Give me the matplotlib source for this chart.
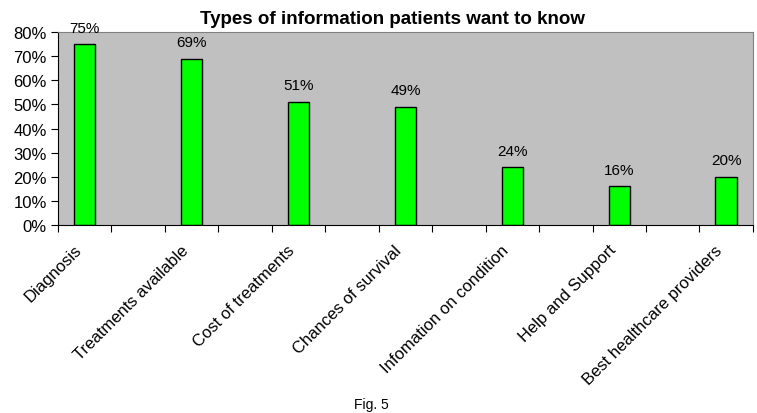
import matplotlib.pyplot as plt
import numpy as np
from matplotlib.transforms import ScaledTranslation

plt.rcParams['font.family'] = ['Liberation Sans', 'DejaVu Sans']

# Data (percent of patients)
categories = ["Diagnosis", "Treatments available", "Cost of treatments",
              "Chances of survival", "Infomation on condition",
              "Help and Support", "Best healthcare providers"]
values = [75, 69, 51, 49, 24, 16, 20]
y_ticks = [0, 10, 20, 30, 40, 50, 60, 70, 80]

fig = plt.figure(figsize=(7.57, 4.14), dpi=100)
ax = fig.add_axes([0.0766, 0.454, 0.918, 0.466])
ax.set_facecolor("#C0C0C0")

# every category sits in every other slot (blank slots in between)
x = np.arange(len(categories)) * 2
bars = ax.bar(x, values, width=0.4, color="#00FF00", edgecolor="black", linewidth=1, zorder=2)

for xi, v in zip(x, values):
    ax.text(xi, v + 4, f"{v}%", ha="center", va="bottom", fontsize=11, clip_on=False)

n_slots = x[-1] + 1
ax.set_xlim(-0.5, n_slots - 0.5)
ax.set_ylim(0, 80)
ax.set_yticks(y_ticks)
ax.set_yticklabels([f"{t}%" for t in y_ticks], fontsize=12)

ax.set_xticks(np.arange(-0.5, n_slots, 1.0))
ax.set_xticklabels([])
ax.set_xticks(x, minor=True)
ax.set_xticklabels(categories, minor=True, rotation=45, ha="right", va="center",
                   rotation_mode="anchor", fontsize=12)
ax.tick_params(axis="x", which="minor", length=0, pad=16)
ax.tick_params(axis="x", which="major", length=5, direction="out")
ax.tick_params(axis="y", length=5, direction="out", pad=3)

# nudge rotated labels a bit left, like the original
shift = ScaledTranslation(-6 / 100, 0, fig.dpi_scale_trans)
for lab in ax.get_xticklabels(minor=True):
    lab.set_transform(lab.get_transform() + shift)

for side in ["top", "right"]:
    ax.spines[side].set_color("#808080")
ax.spines["left"].set_color("black")
ax.spines["bottom"].set_color("black")

fig.text(0.518, 0.954, "Types of information patients want to know",
         ha="center", va="center", fontsize=13.5, fontweight="bold")
fig.text(0.491, 0.022, "Fig. 5", ha="center", va="center", fontsize=10)

fig.savefig("out.png", dpi=100)
